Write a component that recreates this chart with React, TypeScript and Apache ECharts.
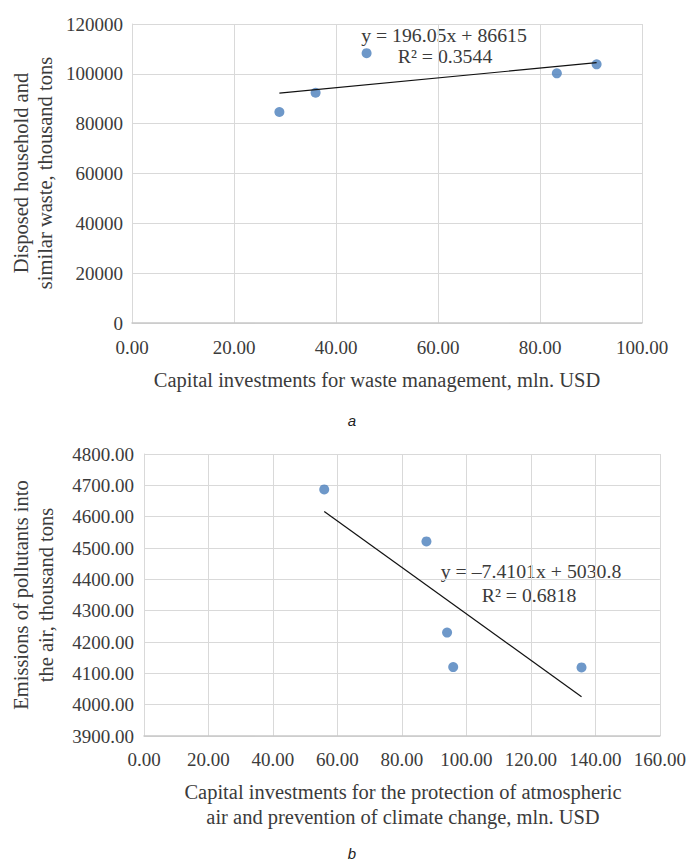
import React, { useEffect, useRef } from "react";
import * as echarts from "echarts";

// Chart a: waste management
const wasteInvestX = [28.9, 36.0, 46.0, 83.3, 91.1];
const wasteDisposedY = [84700, 92400, 108300, 100200, 103800];
const wasteSlope = 196.05;
const wasteIntercept = 86615;
const wasteEquation = "y = 196.05x + 86615";
const wasteR2 = "R² = 0.3544";

// Chart b: atmospheric air protection
const airInvestX = [55.9, 87.6, 94.0, 95.9, 135.7];
const airEmissionY = [4687, 4521, 4230, 4120, 4119];
const airSlope = -7.4101;
const airIntercept = 5030.8;
const airEquation = "y = –7.4101x + 5030.8";
const airR2 = "R² = 0.6818";

const wasteXTitle = "Capital investments for waste management, mln. USD";
const wasteYTitle = ["Disposed household and", "similar waste, thousand tons"];
const airXTitle = ["Capital investments for the protection of atmospheric", "air and prevention of climate change, mln. USD"];
const airYTitle = ["Emissions of pollutants into", "the air, thousand tons"];
const panelLetters = ["a", "b"];

const FONT = "'Liberation Serif', 'Times New Roman', serif";
const TXT = "#3b3b3b";
const DOT = "#4a7ebb";
const GRID = "#d9d9d9";
const FS = 19;
const TITLE_FS = 20.5;
const TREND_FS = 19.8;

function trend(xs: number[], slope: number, intercept: number) {
  const lo = Math.min(...xs);
  const hi = Math.max(...xs);
  return [
    [lo, slope * lo + intercept],
    [hi, slope * hi + intercept],
  ];
}

function serifText(x: number, y: number, text: string, size: number, extra: any = {}) {
  return {
    type: "text",
    x,
    y,
    ...extra,
    style: {
      text,
      fill: TXT,
      font: `${size}px ${FONT}`,
      textAlign: "center",
      textVerticalAlign: "middle",
    },
  };
}

export default function App() {
  const ref = useRef<HTMLDivElement>(null);
  useEffect(() => {
    document.body.style.margin = "0";
    const chart = echarts.init(ref.current!, null, { renderer: "svg" });
    const axisLabel = {
      color: TXT,
      fontFamily: FONT,
      fontSize: FS,
    };
    const option: any = {
      animation: false,
      backgroundColor: "#ffffff",
      grid: [
        { left: 132, top: 24, width: 510, height: 299 },
        { left: 144, top: 454, width: 518, height: 282 },
      ],
      xAxis: [
        {
          gridIndex: 0,
          type: "value",
          min: 0,
          max: 100,
          interval: 20,
          axisLine: { show: true, lineStyle: { color: "#c8c8c8", width: 1.5 } },
          axisTick: { show: false },
          splitLine: { show: true, lineStyle: { color: GRID, width: 1 } },
          axisLabel: { ...axisLabel, margin: 15, formatter: (v: number) => v.toFixed(2) },
        },
        {
          gridIndex: 1,
          type: "value",
          min: 0,
          max: 160,
          interval: 20,
          axisLine: { show: true, lineStyle: { color: "#c8c8c8", width: 1.5 } },
          axisTick: { show: false },
          splitLine: { show: true, lineStyle: { color: GRID, width: 1 } },
          axisLabel: { ...axisLabel, margin: 14, formatter: (v: number) => v.toFixed(2) },
        },
      ],
      yAxis: [
        {
          gridIndex: 0,
          type: "value",
          min: 0,
          max: 120000,
          interval: 20000,
          axisLine: { show: true, lineStyle: { color: GRID, width: 1 } },
          axisTick: { show: false },
          splitLine: { show: true, lineStyle: { color: GRID, width: 1 } },
          axisLabel: { ...axisLabel, margin: 9, formatter: (v: number) => String(v) },
        },
        {
          gridIndex: 1,
          type: "value",
          min: 3900,
          max: 4800,
          interval: 100,
          axisLine: { show: true, lineStyle: { color: GRID, width: 1 } },
          axisTick: { show: false },
          splitLine: { show: true, lineStyle: { color: GRID, width: 1 } },
          axisLabel: { ...axisLabel, margin: 10, formatter: (v: number) => v.toFixed(2) },
        },
      ],
      series: [
        {
          type: "line",
          xAxisIndex: 0,
          yAxisIndex: 0,
          data: trend(wasteInvestX, wasteSlope, wasteIntercept),
          symbol: "none",
          lineStyle: { color: "#111111", width: 1.2 },
          z: 3,
        },
        {
          type: "scatter",
          xAxisIndex: 0,
          yAxisIndex: 0,
          data: wasteInvestX.map((x, i) => [x, wasteDisposedY[i]]),
          symbolSize: 10,
          itemStyle: { color: DOT },
          z: 2,
        },
        {
          type: "line",
          xAxisIndex: 1,
          yAxisIndex: 1,
          data: trend(airInvestX, airSlope, airIntercept),
          symbol: "none",
          lineStyle: { color: "#111111", width: 1.2 },
          z: 3,
        },
        {
          type: "scatter",
          xAxisIndex: 1,
          yAxisIndex: 1,
          data: airInvestX.map((x, i) => [x, airEmissionY[i]]),
          symbolSize: 10,
          itemStyle: { color: DOT },
          z: 2,
        },
      ],
      graphic: [
        serifText(444, 35, wasteEquation, TREND_FS),
        serifText(445, 56, wasteR2, TREND_FS),
        serifText(377, 380, wasteXTitle, TITLE_FS),
        serifText(21, 173, wasteYTitle[0], TITLE_FS, { rotation: Math.PI / 2 }),
        serifText(45, 173, wasteYTitle[1], TITLE_FS, { rotation: Math.PI / 2 }),
        serifText(531, 571, airEquation, TREND_FS),
        serifText(529, 595, airR2, TREND_FS),
        serifText(403, 792, airXTitle[0], TITLE_FS),
        serifText(403, 817, airXTitle[1], TITLE_FS),
        serifText(21, 595, airYTitle[0], TITLE_FS, { rotation: Math.PI / 2 }),
        serifText(46, 595, airYTitle[1], TITLE_FS, { rotation: Math.PI / 2 }),
        {
          type: "text",
          x: 352,
          y: 420,
          style: {
            text: panelLetters[0],
            fill: "#222222",
            font: "italic 15px 'Liberation Sans', Arial, sans-serif",
            textAlign: "center",
            textVerticalAlign: "middle",
          },
        },
        {
          type: "text",
          x: 352,
          y: 853,
          style: {
            text: panelLetters[1],
            fill: "#222222",
            font: "italic 15px 'Liberation Sans', Arial, sans-serif",
            textAlign: "center",
            textVerticalAlign: "middle",
          },
        },
      ],
    };
    chart.setOption(option);
    return () => chart.dispose();
  }, []);
  return <div ref={ref} style={{ width: 689, height: 860 }} />;
}
